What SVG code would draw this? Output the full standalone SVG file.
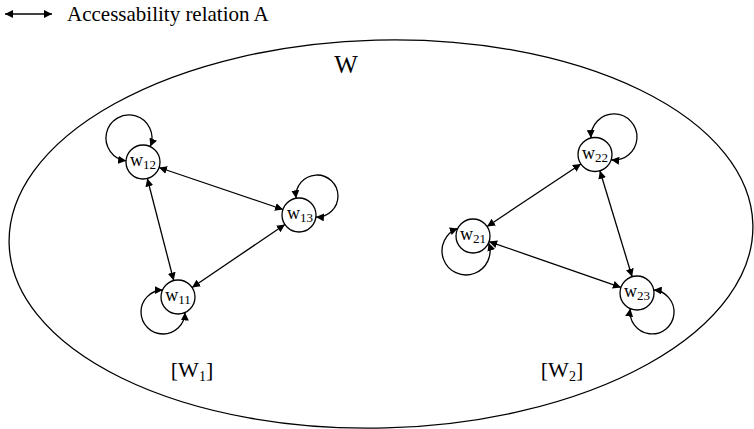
<svg xmlns="http://www.w3.org/2000/svg" width="754" height="429" viewBox="0 0 754 429">
<style>
text{font-family:"Liberation Serif","Times New Roman",serif;fill:#000}
.n{fill:none;stroke:#000;stroke-width:1.3}
.c{fill:none;stroke:#000;stroke-width:1.3}
.lbl{font-size:18px;text-anchor:middle}
.sub{font-size:13px}
</style>
<defs>
<marker id="ah" viewBox="0 0 10 10" refX="10" refY="5" markerWidth="8" markerHeight="8" markerUnits="userSpaceOnUse" orient="auto-start-reverse">
<path d="M0,0 L10,5 L0,10 z" fill="#000"/>
</marker>
</defs>
<g id="legend">
<line class="c" x1="5" y1="14" x2="52" y2="14" marker-start="url(#ah)" marker-end="url(#ah)"/>
<text x="67" y="21" font-size="21">Accessability relation A</text>
</g>
<g id="W">
<ellipse class="n" cx="381" cy="234" rx="372" ry="194" transform="rotate(-1.5 381 234)"/>
<text x="346" y="73" font-size="25" text-anchor="middle">W</text>
</g>
<g id="W1label"><text x="192" y="377" font-size="22" text-anchor="middle">[W<tspan font-size="14" dy="4">1</tspan><tspan dy="-4">]</tspan></text></g>
<g id="W2label"><text x="562" y="377" font-size="22" text-anchor="middle">[W<tspan font-size="14" dy="4">2</tspan><tspan dy="-4">]</tspan></text></g>
<g id="w12"><circle class="n" cx="143" cy="162" r="17"/><text class="lbl" x="143" y="166">w<tspan class="sub" dy="3">12</tspan></text></g>
<g id="w13"><circle class="n" cx="299" cy="215" r="17"/><text class="lbl" x="300" y="219">w<tspan class="sub" dy="3">13</tspan></text></g>
<g id="w11"><circle class="n" cx="178" cy="297" r="17"/><text class="lbl" x="178" y="301">w<tspan class="sub" dy="3">11</tspan></text></g>
<g id="w22"><circle class="n" cx="595" cy="154.5" r="17"/><text class="lbl" x="595" y="158.5">w<tspan class="sub" dy="3">22</tspan></text></g>
<g id="w21"><circle class="n" cx="473" cy="236" r="17"/><text class="lbl" x="473" y="240">w<tspan class="sub" dy="3">21</tspan></text></g>
<g id="w23"><circle class="n" cx="637" cy="293" r="17"/><text class="lbl" x="637" y="297">w<tspan class="sub" dy="3">23</tspan></text></g>
<g id="connectors">
<path class="c" d="M126.1,160.8 A23,23 0 1 1 150.3,146.6" marker-start="url(#ah)" marker-end="url(#ah)"/>
<path class="c" d="M296.1,198.3 A21,21 0 1 1 315.9,217" marker-start="url(#ah)" marker-end="url(#ah)"/>
<path class="c" d="M162.6,290 A22,22 0 1 0 185,312.5" marker-start="url(#ah)" marker-end="url(#ah)"/>
<path class="c" d="M457.8,228.4 A24,24 0 1 0 488.6,242.8" marker-start="url(#ah)" marker-end="url(#ah)"/>
<path class="c" d="M591,138 A23,23 0 1 1 611.2,159.8" marker-start="url(#ah)" marker-end="url(#ah)"/>
<path class="c" d="M653.7,290 A22,22 0 1 1 630.3,308.6" marker-start="url(#ah)" marker-end="url(#ah)"/>
<line class="c" x1="159" y1="167.5" x2="283" y2="209.5" marker-start="url(#ah)" marker-end="url(#ah)"/>
<line class="c" x1="147.3" y1="178.5" x2="173.7" y2="280.5" marker-start="url(#ah)" marker-end="url(#ah)"/>
<line class="c" x1="284.9" y1="224.5" x2="192.1" y2="287.5" marker-start="url(#ah)" marker-end="url(#ah)"/>
<line class="c" x1="580.9" y1="164" x2="487.1" y2="226.5" marker-start="url(#ah)" marker-end="url(#ah)"/>
<line class="c" x1="599.9" y1="170.8" x2="632.1" y2="276.7" marker-start="url(#ah)" marker-end="url(#ah)"/>
<line class="c" x1="489.1" y1="241.6" x2="620.9" y2="287.4" marker-start="url(#ah)" marker-end="url(#ah)"/>
</g>
</svg>
